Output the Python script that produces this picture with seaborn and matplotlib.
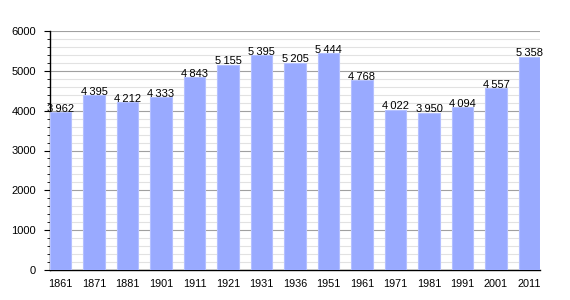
import matplotlib
matplotlib.use("Agg")
import matplotlib.pyplot as plt
import seaborn as sns
import pandas as pd
from matplotlib.ticker import MultipleLocator

years = ["1861", "1871", "1881", "1901", "1911", "1921", "1931", "1936",
         "1951", "1961", "1971", "1981", "1991", "2001", "2011"]
population = [3962, 4395, 4212, 4333, 4843, 5155, 5395, 5205,
              5444, 4768, 4022, 3950, 4094, 4557, 5358]

df = pd.DataFrame({"year": years, "pop": population})

sns.set_style("white")
plt.rcParams['font.family'] = ['Liberation Sans', 'DejaVu Sans']
plt.rcParams['text.color'] = 'black'
plt.rcParams['xtick.color'] = 'black'
plt.rcParams['ytick.color'] = 'black'

fig = plt.figure(figsize=(5.7, 3.0), dpi=100)
ax = fig.add_axes([50/570, 30/300, 490/570, 239/300])

w = 0.63
sns.barplot(data=df, x="year", y="pop", color="#99aaff", saturation=1,
            width=w, edgecolor="#b4c0ff", linewidth=0.8, ax=ax, zorder=3)

ax.set_xlim(-w/2, len(years) - 1 + w/2)
ax.set_ylim(0, 6000)
ax.yaxis.set_major_locator(MultipleLocator(1000))
ax.yaxis.set_minor_locator(MultipleLocator(200))
ax.grid(True, which="major", axis="y", color="#a0a0a0", linewidth=0.8, zorder=0)
ax.grid(True, which="minor", axis="y", color="#e2e2e2", linewidth=0.8, zorder=0)
ax.set_axisbelow(True)

for s in ["top", "right"]:
    ax.spines[s].set_visible(False)
for s in ["left", "bottom"]:
    ax.spines[s].set_color("black")
    ax.spines[s].set_linewidth(1.0)

ax.tick_params(axis="y", which="major", left=True, length=4, width=0.8,
               labelsize=8, pad=6, colors="black")
ax.tick_params(axis="y", which="minor", left=True, length=2, width=0.6,
               colors="black")
ax.tick_params(axis="x", bottom=False, labelsize=7.8, pad=3, colors="black")
ax.set_xlabel("")
ax.set_ylabel("")

for i, v in enumerate(population):
    s = f"{v:,}".replace(",", "\u2009")
    ax.text(i, v + 10, s, ha="center", va="baseline", fontsize=8,
            color="black", zorder=5)

fig.savefig("out.png", dpi=100)
